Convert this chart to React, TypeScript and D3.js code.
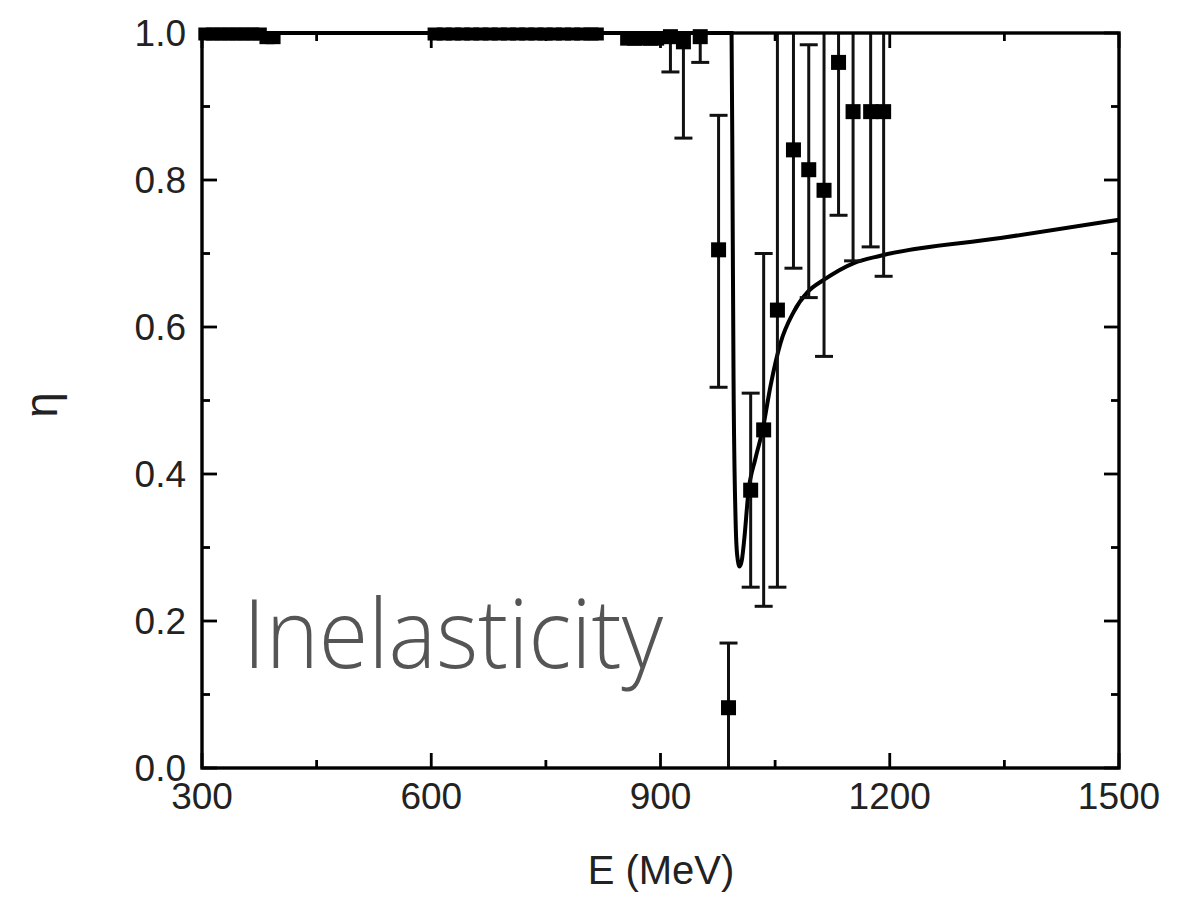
import React from "react";
import * as d3 from "d3";

// ---- data ----
// points lying on eta ~ 1 (small/no error bars)
const topE = [305, 315, 325, 335, 345, 355, 365, 375, 385, 393, 605, 617, 629, 641, 653, 665, 677, 689, 701, 713, 725, 737, 749, 761, 773, 785, 797, 809, 816, 857, 866, 876, 887, 895];
const topEta = [1, 1, 1, 1, 1, 1, 1, 1, 0.995, 0.995, 1, 1, 1, 1, 1, 1, 1, 1, 1, 1, 1, 1, 1, 1, 1, 1, 1, 1, 1, 0.993, 0.993, 0.993, 0.993, 0.993];

// points with error bars
const ptE = [913, 930, 952, 976, 989, 1018, 1035, 1053, 1074, 1094, 1114, 1133, 1152, 1175, 1192];
const ptEta = [0.995, 0.988, 0.995, 0.705, 0.082, 0.378, 0.46, 0.623, 0.841, 0.814, 0.786, 0.96, 0.893, 0.893, 0.893];
const ptLow = [0.947, 0.857, 0.96, 0.518, 0.0, 0.246, 0.22, 0.246, 0.68, 0.64, 0.56, 0.752, 0.69, 0.709, 0.669];
const ptHigh = [1.0, 1.0, 1.0, 0.888, 0.17, 0.51, 0.70, 1.0, 1.0, 0.984, 1.0, 1.0, 1.0, 1.0, 1.0];

// theory curve
const curveE = [300, 993, 994.3, 995.6, 998.2, 1000.3, 1003.5, 1006.5, 1009.5, 1015, 1024, 1033.6, 1044, 1057, 1074, 1093, 1113.5, 1153, 1188, 1345, 1500];
const curveEta = [1.0, 1.0, 0.773, 0.528, 0.34, 0.29, 0.274, 0.283, 0.31, 0.375, 0.42, 0.46, 0.52, 0.578, 0.62, 0.648, 0.664, 0.687, 0.697, 0.721, 0.746];

const xTicks = [300, 600, 900, 1200, 1500];
const xMinor = [450, 750, 1050, 1350];
const yTicks = [0, 0.2, 0.4, 0.6, 0.8, 1.0];
const yMinor = [0.1, 0.3, 0.5, 0.7, 0.9];

export default function App() {
  const W = 1201, H = 913;
  const x = d3.scaleLinear().domain([300, 1500]).range([202, 1119]);
  const y = d3.scaleLinear().domain([0, 1]).range([768, 33]);
  const line = d3
    .line<number>()
    .x((_, i) => x(curveE[i]))
    .y((d) => y(d))
    .curve(d3.curveMonotoneX);
  const sq = 15;
  const cap = 9;
  const major = 15, minor = 8;
  const font = "'Liberation Sans', Arial, Helvetica, sans-serif";
  const [x0, x1] = x.range();
  const [y0, y1] = y.range();

  return (
    <svg width={W} height={H} style={{ position: "absolute", left: 0, top: 0, background: "#fff" }}>
      <rect x={0} y={0} width={W} height={H} fill="#fff" />
      {/* curve */}
      <path d={line(curveEta) || ""} fill="none" stroke="#000" strokeWidth={4} />
      {/* error bars */}
      {ptE.map((e, i) => (
        <g key={"eb" + i} stroke="#111" strokeWidth={3}>
          <line x1={x(e)} x2={x(e)} y1={y(ptLow[i])} y2={y(ptHigh[i])} />
          {ptHigh[i] < 1 && <line x1={x(e) - cap} x2={x(e) + cap} y1={y(ptHigh[i])} y2={y(ptHigh[i])} />}
          {ptLow[i] > 0 && <line x1={x(e) - cap} x2={x(e) + cap} y1={y(ptLow[i])} y2={y(ptLow[i])} />}
        </g>
      ))}
      {/* squares */}
      {ptE.map((e, i) => (
        <rect key={"p" + i} x={x(e) - sq / 2} y={y(ptEta[i]) - sq / 2} width={sq} height={sq} fill="#000" />
      ))}
      {topE.map((e, i) => (
        <rect key={"t" + i} x={x(e) - sq / 2} y={y(topEta[i]) - sq / 2 + 2} width={sq} height={sq - 2} fill="#000" />
      ))}
      {/* frame */}
      <rect x={x0} y={y1} width={x1 - x0} height={y0 - y1} fill="none" stroke="#000" strokeWidth={3.4} />
      {/* x ticks bottom/top */}
      {xTicks.map((t) => (
        <g key={"xt" + t} stroke="#000" strokeWidth={2.8}>
          <line x1={x(t)} x2={x(t)} y1={y0} y2={y0 - major} />
          <line x1={x(t)} x2={x(t)} y1={y1} y2={y1 + major} />
        </g>
      ))}
      {xMinor.map((t) => (
        <g key={"xm" + t} stroke="#000" strokeWidth={2.8}>
          <line x1={x(t)} x2={x(t)} y1={y0} y2={y0 - minor} />
          <line x1={x(t)} x2={x(t)} y1={y1} y2={y1 + minor} />
        </g>
      ))}
      {yTicks.map((t) => (
        <g key={"yt" + t} stroke="#000" strokeWidth={2.8}>
          <line x1={x0} x2={x0 + major} y1={y(t)} y2={y(t)} />
          <line x1={x1} x2={x1 - major} y1={y(t)} y2={y(t)} />
        </g>
      ))}
      {yMinor.map((t) => (
        <g key={"ym" + t} stroke="#000" strokeWidth={2.8}>
          <line x1={x0} x2={x0 + minor} y1={y(t)} y2={y(t)} />
          <line x1={x1} x2={x1 - minor} y1={y(t)} y2={y(t)} />
        </g>
      ))}
      {/* tick labels */}
      {xTicks.map((t) => (
        <text key={"xl" + t} x={x(t)} y={809} textAnchor="middle" fontFamily={font} fontSize={37} fill="#222">
          {t}
        </text>
      ))}
      {yTicks.map((t) => (
        <text key={"yl" + t} x={186} y={y(t) + 13} textAnchor="end" fontFamily={font} fontSize={37} fill="#222">
          {d3.format(".1f")(t)}
        </text>
      ))}
      {/* axis titles */}
      <text x={661} y={884} textAnchor="middle" fontFamily={font} fontSize={40} fill="#222">
        E (MeV)
      </text>
      <text transform="translate(57,405) rotate(-90)" textAnchor="middle" fontFamily={font} fontSize={46} fill="#222">
        η
      </text>
      {/* annotation */}
      <text x={243} y={668} fontFamily="'Open Sans', Lato, sans-serif" fontWeight={300} fontSize={95} fill="#555" textLength={420} lengthAdjust="spacingAndGlyphs">
        Inelasticity
      </text>
    </svg>
  );
}
